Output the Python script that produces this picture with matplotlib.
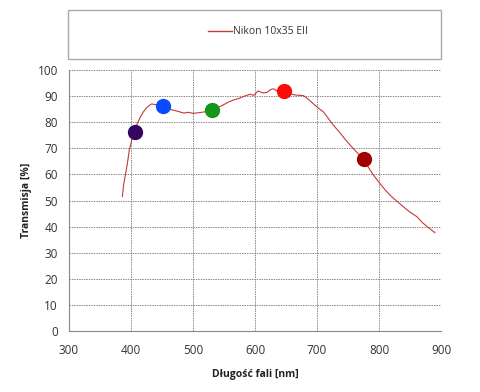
import numpy as np
import matplotlib.pyplot as plt
from matplotlib.patches import Rectangle
from matplotlib.lines import Line2D

plt.rcParams['font.family'] = ['Open Sans', 'DejaVu Sans']

# transmission curve
wl = [386, 388, 391, 394, 397, 401, 405, 410, 415, 420, 425, 430, 433, 438, 445,
      451, 458, 466, 475, 485, 493, 500, 508, 517, 525, 531, 540, 550, 558, 565,
      575, 585, 592, 598, 605, 612, 619, 625, 630, 636, 642, 647, 655, 663, 670,
      678, 685, 692, 700, 710, 718, 726, 735, 745, 753, 762, 770, 775, 782, 790,
      801, 810, 820, 830, 839, 850, 861, 870, 880, 890]
trans = [51.5, 56, 60, 64, 69, 73, 76, 79.5, 82, 84, 85.5, 86.5, 87, 86.8, 86.5,
         86.2, 85.5, 84.7, 84.2, 83.5, 83.8, 83.4, 83.6, 83.9, 84.2, 84.7, 85.6, 86.8, 87.8, 88.5,
         89.2, 90.2, 90.7, 90.3, 92, 91.2, 91.4, 92.5, 92.8, 91.8, 92.3, 92, 91, 90.5, 90.3,
         90.2, 89, 87.5, 85.8, 84, 81.5, 78.9, 76.5, 73.5, 71.3, 69, 67, 65.8, 63, 60,
         56.6, 54, 51.5, 49.5, 47.6, 45.5, 43.8, 41.5, 39.5, 37.7]

# coloured markers
mark_wl = [407, 451, 531, 647, 775]
mark_t = [76.1, 86.2, 84.7, 92.1, 65.8]
mark_col = ['#35065f', '#0b4bff', '#13961a', '#ff0a0a', '#a00000']

fig = plt.figure(figsize=(4.8, 3.92), dpi=100)
ax = fig.add_axes([0.1438, 0.1556, 0.7752, 0.6658])

ax.plot(wl, trans, color='#c43a34', lw=0.8)
for x, y, c in zip(mark_wl, mark_t, mark_col):
    ax.plot(x, y, 'o', color=c, ms=10, mec=c, zorder=5)

ax.set_xlim(300, 900)
ax.set_ylim(0, 100)
ax.set_xticks(range(300, 901, 100))
ax.set_yticks(range(0, 101, 10))
ax.grid(True, color='#888888', ls=(0, (1.5, 1)), lw=0.7)
for s in ['top', 'right']:
    ax.spines[s].set_visible(False)
for s in ['left', 'bottom']:
    ax.spines[s].set_color('#888888')
ax.tick_params(length=0, labelsize=8.5, colors='#333333', pad=9)
ax.tick_params(axis='y', pad=8)
ax.set_xlabel('Długość fali [nm]', fontsize=7.5, fontweight='bold', color='#222222', labelpad=9)
ax.set_ylabel('Transmisja [%]', fontsize=7.5, fontweight='bold', color='#222222', labelpad=4)

# legend box above the plot
fig.patches.append(Rectangle((68 / 480, 1 - 59 / 392), 373 / 480, 49 / 392,
                             transform=fig.transFigure, fill=False,
                             ec='#aaaaaa', lw=1.0))
fig.lines.append(Line2D([208 / 480, 232 / 480], [1 - 31 / 392] * 2,
                        transform=fig.transFigure, color='#c43a34', lw=1.0))
fig.text(233 / 480, 1 - 31 / 392, 'Nikon 10x35 EII', fontsize=7.5,
         color='#333333', va='center', ha='left')

fig.savefig('out.png', dpi=100)
